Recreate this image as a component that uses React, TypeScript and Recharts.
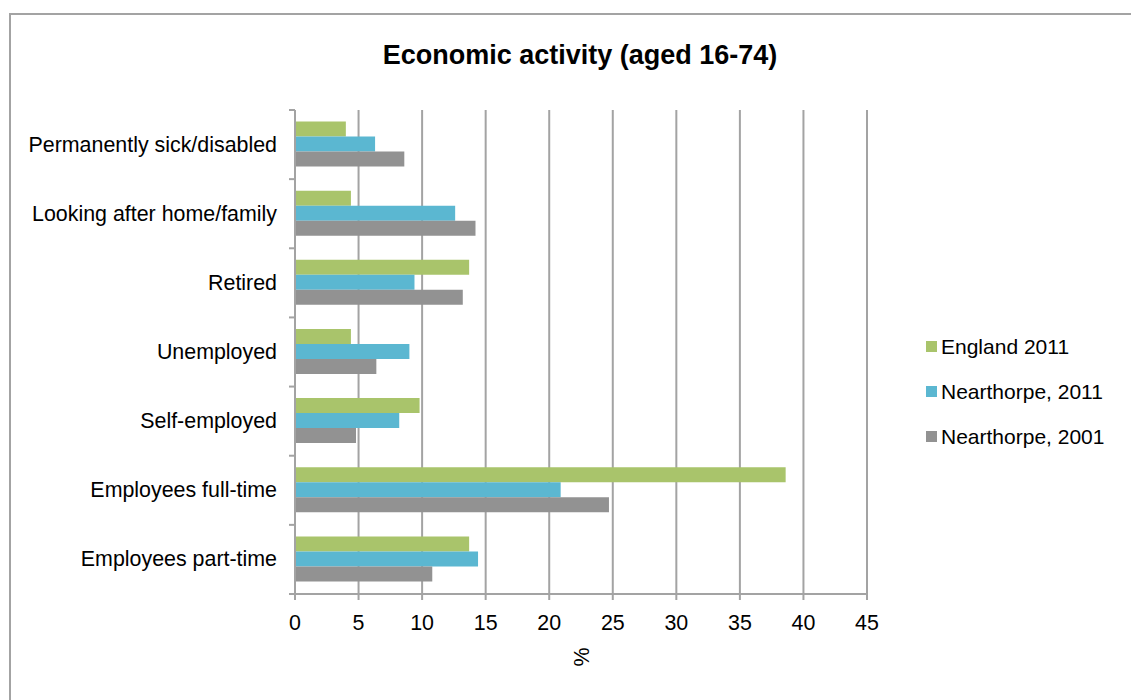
import React from "react";
import {
  BarChart,
  Bar,
  XAxis,
  YAxis,
  CartesianGrid,
  Legend,
} from "recharts";

const categories = [
  "Permanently sick/disabled",
  "Looking after home/family",
  "Retired",
  "Unemployed",
  "Self-employed",
  "Employees full-time",
  "Employees part-time",
];

const england2011 = [4.0, 4.4, 13.7, 4.4, 9.8, 38.6, 13.7];
const nearthorpe2011 = [6.3, 12.6, 9.4, 9.0, 8.2, 20.9, 14.4];
const nearthorpe2001 = [8.6, 14.2, 13.2, 6.4, 4.8, 24.7, 10.8];

const xTicks = [0, 5, 10, 15, 20, 25, 30, 35, 40, 45];

const seriesInfo = [
  { key: "england2011", name: "England 2011", color: "#a9c46b" },
  { key: "nearthorpe2011", name: "Nearthorpe, 2011", color: "#5bb7d1" },
  { key: "nearthorpe2001", name: "Nearthorpe, 2001", color: "#929292" },
];

const data = categories.map((label, i) => ({
  label,
  england2011: england2011[i],
  nearthorpe2011: nearthorpe2011[i],
  nearthorpe2001: nearthorpe2001[i],
}));

const FONT = '"Liberation Sans", Arial, sans-serif';
const AXIS_GREY = "#a3a3a3";
const LABEL_SIZE = 21.4;

const W = 1131;
const H = 700;
const MARGIN = { top: 110, right: 264, bottom: 66, left: 15 };
const Y_AXIS_W = 280;
const X_AXIS_H = 40;
const PLOT_H = H - MARGIN.top - MARGIN.bottom - X_AXIS_H;
const BAND = PLOT_H / categories.length;
const TICK_SIZE = 6;
const TICK_MARGIN = 12;

// category label + the little boundary ticks between groups (excel style)
function CategoryTick(props: any) {
  const { x, y, payload, index } = props;
  const axisX = x + TICK_SIZE + TICK_MARGIN;
  const top = y - BAND / 2;
  const bottom = y + BAND / 2;
  return (
    <g>
      <line x1={axisX - TICK_SIZE} x2={axisX} y1={top} y2={top} stroke={AXIS_GREY} strokeWidth={2} />
      {index === categories.length - 1 && (
        <line x1={axisX - TICK_SIZE} x2={axisX} y1={bottom} y2={bottom} stroke={AXIS_GREY} strokeWidth={2} />
      )}
      <text
        x={x}
        y={y}
        textAnchor="end"
        dominantBaseline="central"
        fill="#000"
        fontSize={LABEL_SIZE}
        fontFamily={FONT}
      >
        {payload.value}
      </text>
    </g>
  );
}

function LegendBox() {
  return (
    <div style={{ fontFamily: FONT, fontSize: 21, color: "#000" }}>
      {seriesInfo.map((s) => (
        <div key={s.key} style={{ display: "flex", alignItems: "center", height: 45 }}>
          <span
            style={{
              width: 11,
              height: 11,
              background: s.color,
              display: "inline-block",
              marginRight: 4,
            }}
          />
          <span>{s.name}</span>
        </div>
      ))}
    </div>
  );
}

export default function App() {
  return (
    <div>
      <div
        style={{
          position: "absolute",
          left: 9,
          top: 13,
          width: W - 9 - 2,
          height: H - 13 - 2,
          borderTop: `2px solid ${AXIS_GREY}`,
          borderLeft: `2px solid ${AXIS_GREY}`,
        }}
      />
      <div style={{ position: "absolute", left: 0, top: 0 }}>
        <BarChart
          width={W}
          height={H}
          data={data}
          layout="vertical"
          margin={MARGIN}
          barCategoryGap="16.7%"
          barGap={0}
        >
          <text
            x={580}
            y={64}
            textAnchor="middle"
            fontFamily={FONT}
            fontSize={27}
            fontWeight="bold"
            fill="#000"
          >
            Economic activity (aged 16-74)
          </text>
          <text
            x={589}
            y={657}
            transform="rotate(-90 589 657)"
            textAnchor="middle"
            fontFamily={FONT}
            fontSize={LABEL_SIZE}
            fill="#000"
          >
            %
          </text>

          <CartesianGrid horizontal={false} stroke={AXIS_GREY} strokeWidth={2} />

          <XAxis
            type="number"
            domain={[0, 45]}
            ticks={xTicks}
            height={X_AXIS_H}
            interval={0}
            tickSize={TICK_SIZE}
            tickMargin={15}
            axisLine={{ stroke: AXIS_GREY, strokeWidth: 2 }}
            tickLine={{ stroke: AXIS_GREY, strokeWidth: 2 }}
            tick={{ fill: "#000", fontSize: LABEL_SIZE, fontFamily: FONT }}
          />
          <YAxis
            type="category"
            dataKey="label"
            width={Y_AXIS_W}
            interval={0}
            tickSize={TICK_SIZE}
            tickMargin={TICK_MARGIN}
            tickLine={false}
            axisLine={{ stroke: AXIS_GREY, strokeWidth: 2 }}
            tick={<CategoryTick />}
          />

          <Legend
            layout="vertical"
            align="center"
            verticalAlign="middle"
            wrapperStyle={{ left: 926, top: 324, width: 200 }}
            content={<LegendBox />}
          />

          {seriesInfo.map((s) => (
            <Bar
              key={s.key}
              dataKey={s.key}
              name={s.name}
              fill={s.color}
              isAnimationActive={false}
            />
          ))}
        </BarChart>
      </div>
    </div>
  );
}
